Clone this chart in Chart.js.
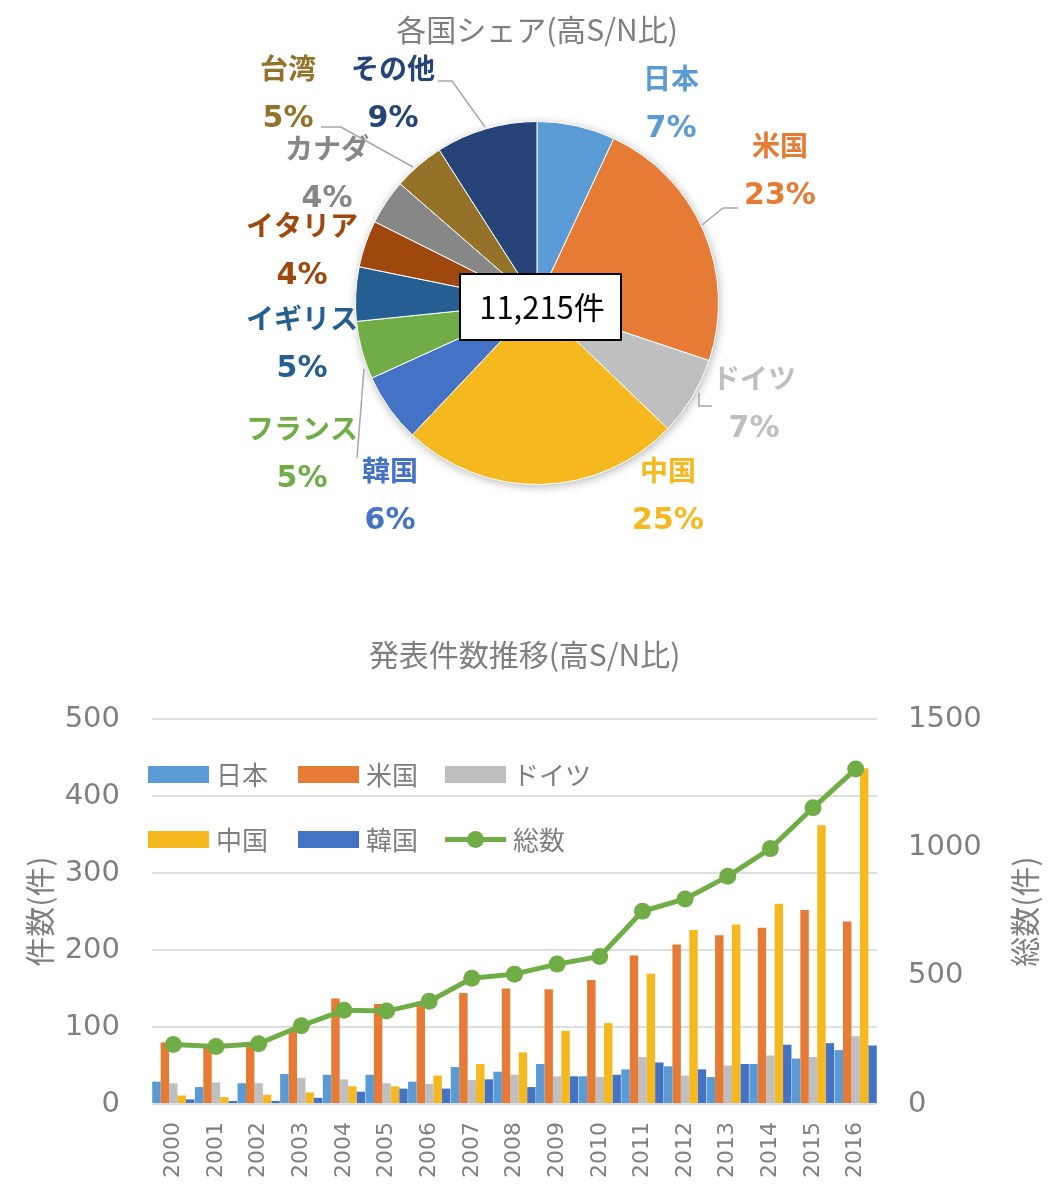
<!DOCTYPE html>
<html lang="ja">
<head>
<meta charset="utf-8">
<title>各国シェア / 発表件数推移</title>
<script src="https://cdn.jsdelivr.net/npm/chart.js@4.4.1/dist/chart.umd.min.js"></script>
<style>
  body { margin: 0; background: #fff; }
  #wrap { position: relative; width: 1049px; height: 1185px; overflow: hidden; background: #fff; }
  #pieChart { position: absolute; left: 0; top: 0; }
  #barChart { position: absolute; left: 0; top: 600px; }
  .lg { position: absolute; height: 17px; font: 26px 'Noto Sans CJK JP', 'Noto Sans', sans-serif; color: #7f7f7f; }
  .lg .sw { position: absolute; left: 0; top: 0; width: 61px; height: 17px; }
  .lg .tx { position: absolute; left: 68px; top: -9px; line-height: 34px; white-space: nowrap; }
</style>
</head>
<body>
<div id="wrap">
  <canvas id="pieChart" width="1049" height="560"></canvas>
  <canvas id="barChart" width="1049" height="585"></canvas>
</div>
<script>
// fonts / colours
const FONT = "'Noto Sans CJK JP', 'Noto Sans', sans-serif";
const NUMFONT = "'DejaVu Sans', 'Noto Sans CJK JP', sans-serif";
const GRAY = "#7f7f7f";

// ---- pie data ----
const countries = ["日本", "米国", "ドイツ", "中国", "韓国", "フランス", "イギリス", "イタリア", "カナダ", "台湾", "その他"];
const shares = [780, 2600, 790, 2790, 690, 580, 540, 470, 450, 510, 1015];
const pieColors = ["#5b9bd5", "#e67b35", "#bfbfbf", "#f5b81e", "#4472c4", "#70ad47", "#255e91", "#9e480e", "#878787", "#94722a", "#264478"];

// label spots, offset from the pie centre (name line; percent goes 50px below)
const labelSpots = [
  [134, -225], [243, -158], [217, 75], [131, 167], [-147, 167], [-235, 125],
  [-235, 15], [-235, -78], [-210, -155], [-249, -235], [-144, -235]
];
// leader lines, offset from the pie centre
const leaders = [
  [[-99, -222], [-85, -222], [-52, -176]],
  [[-216, -176], [-196, -176], [-124, -136]],
  [[165, -78], [186, -95], [201, -95]],
  [[162, 90], [162, 103], [175, 103]],
  [[-173, 66], [-180, 155]]
];

// ---- bar/line data ----
const years = ["2000", "2001", "2002", "2003", "2004", "2005", "2006", "2007", "2008", "2009", "2010", "2011", "2012", "2013", "2014", "2015", "2016"];
const japan = [29, 22, 27, 39, 38, 38, 29, 48, 42, 52, 36, 45, 49, 35, 52, 59, 70];
const usa = [80, 74, 78, 97, 137, 130, 133, 144, 150, 149, 161, 193, 207, 219, 229, 252, 237];
const germany = [27, 28, 27, 34, 32, 27, 26, 31, 38, 36, 35, 61, 37, 50, 63, 61, 88];
const china = [11, 9, 12, 15, 23, 23, 37, 52, 67, 95, 105, 169, 226, 233, 260, 362, 436];
const korea = [6, 4, 4, 8, 16, 20, 20, 32, 22, 36, 38, 54, 45, 52, 77, 79, 76];
const totals = [232, 224, 235, 305, 365, 362, 400, 490, 506, 545, 575, 751, 799, 887, 995, 1154, 1305];
const leftTicks = [0, 100, 200, 300, 400, 500];
const rightTicks = [0, 500, 1000, 1500];
const GREEN = "#70ad47";

// pie extras: shadow under the pie, labels, leader lines, centre box
const pieExtras = {
  id: "pieExtras",
  beforeDatasetsDraw(chart) {
    const arc = chart.getDatasetMeta(0).data[0];
    const ctx = chart.ctx;
    ctx.save();
    ctx.shadowColor = "rgba(0,0,0,0.3)";
    ctx.shadowBlur = 10;
    ctx.shadowOffsetX = 1;
    ctx.shadowOffsetY = 2;
    ctx.fillStyle = "#fff";
    ctx.beginPath();
    ctx.arc(arc.x, arc.y, arc.outerRadius, 0, Math.PI * 2);
    ctx.fill();
    ctx.restore();
  },
  afterDatasetsDraw(chart) {
    const arc = chart.getDatasetMeta(0).data[0];
    const cx = arc.x, cy = arc.y;
    const ctx = chart.ctx;
    const sum = shares.reduce((a, b) => a + b, 0);
    ctx.save();

    // leader lines
    ctx.strokeStyle = "#a6a6a6";
    ctx.lineWidth = 1.5;
    leaders.forEach(pts => {
      ctx.beginPath();
      pts.forEach((p, i) => {
        if (i === 0) ctx.moveTo(cx + p[0], cy + p[1]);
        else ctx.lineTo(cx + p[0], cy + p[1]);
      });
      ctx.stroke();
    });

    // names + percents
    ctx.textAlign = "center";
    ctx.textBaseline = "middle";
    for (let i = 0; i < countries.length; i++) {
      const x = cx + labelSpots[i][0];
      const y = cy + labelSpots[i][1];
      ctx.fillStyle = pieColors[i];
      ctx.font = "bold 28px " + FONT;
      ctx.fillText(countries[i], x, y);
      ctx.font = "bold 30px " + NUMFONT;
      ctx.fillText(Math.round(shares[i] / sum * 100) + "%", x, y + 51);
    }

    // centre box
    ctx.fillStyle = "#fff";
    ctx.fillRect(cx - 77, cy - 29, 161, 66);
    ctx.strokeStyle = "#000";
    ctx.lineWidth = 2;
    ctx.strokeRect(cx - 77, cy - 29, 161, 66);
    ctx.fillStyle = "#000";
    ctx.font = "31px " + FONT;
    ctx.fillText(sum.toLocaleString("en-US") + "件", cx + 5, cy + 4);
    ctx.restore();
  }
};

new Chart(document.getElementById("pieChart"), {
  type: "pie",
  data: {
    labels: countries,
    datasets: [{
      data: shares,
      backgroundColor: pieColors,
      borderColor: "#fff",
      borderWidth: 1,
      hoverOffset: 0,
      offset: 0
    }]
  },
  options: {
    responsive: false,
    animation: false,
    layout: { padding: { left: 355, right: 330, top: 0, bottom: 75 } },
    plugins: {
      legend: { display: false },
      tooltip: { enabled: false },
      title: {
        display: true,
        text: "各国シェア(高S/N比)",
        color: GRAY,
        font: { size: 30, family: FONT, weight: "normal" },
        padding: { top: 12, bottom: 73 }
      }
    }
  },
  plugins: [pieExtras]
});

// bar + line chart
const barSeries = [
  ["日本", japan, pieColors[0]],
  ["米国", usa, pieColors[1]],
  ["ドイツ", germany, pieColors[2]],
  ["中国", china, pieColors[3]],
  ["韓国", korea, pieColors[4]]
];

const datasets = [{
  type: "line",
  label: "総数",
  data: totals,
  yAxisID: "y2",
  borderColor: GREEN,
  backgroundColor: GREEN,
  borderWidth: 5,
  pointRadius: 8.5,
  pointHoverRadius: 8.5,
  pointBorderWidth: 0,
  order: 0
}];
barSeries.forEach(s => {
  datasets.push({
    type: "bar",
    label: s[0],
    data: s[1],
    backgroundColor: s[2],
    yAxisID: "y",
    categoryPercentage: 0.99,
    barPercentage: 1.0,
    order: 1
  });
});

// right axis title reads bottom-to-top like the left one, so draw it here
const rightTitle = {
  id: "rightTitle",
  afterDraw(chart) {
    const s = chart.scales.y2;
    const ctx = chart.ctx;
    ctx.save();
    ctx.translate(1025, (s.top + s.bottom) / 2);
    ctx.rotate(-Math.PI / 2);
    ctx.textAlign = "center";
    ctx.textBaseline = "middle";
    ctx.fillStyle = GRAY;
    ctx.font = "30px " + FONT;
    ctx.fillText("総数(件)", 0, 0);
    ctx.restore();
  }
};

new Chart(document.getElementById("barChart"), {
  type: "bar",
  data: { labels: years, datasets: datasets },
  options: {
    responsive: false,
    animation: false,
    layout: { padding: 0 },
    plugins: {
      legend: { display: false },
      tooltip: { enabled: false },
      title: {
        display: true,
        text: "発表件数推移(高S/N比)",
        color: GRAY,
        font: { size: 30, family: FONT, weight: "normal" },
        padding: { top: 37, bottom: 46 }
      }
    },
    scales: {
      x: {
        grid: { display: false, drawTicks: false },
        border: { display: false },
        ticks: { minRotation: 90, maxRotation: 90, color: GRAY, font: { size: 22, family: NUMFONT }, padding: 18 },
        afterFit(s) { s.height = 81; }
      },
      y: {
        position: "left",
        min: leftTicks[0],
        max: leftTicks[leftTicks.length - 1],
        afterBuildTicks(s) { s.ticks = leftTicks.map(v => ({ value: v })); },
        grid: { color: "#dedede", lineWidth: 2, drawTicks: false },
        border: { display: false },
        ticks: { color: GRAY, font: { size: 29, family: NUMFONT }, padding: 32, callback: v => String(v) },
        title: { display: true, text: "件数(件)", color: GRAY, font: { size: 30, family: FONT }, padding: { top: 22, bottom: 0 } },
        afterFit(s) { s.width = 152; }
      },
      y2: {
        position: "right",
        min: rightTicks[0],
        max: rightTicks[rightTicks.length - 1],
        afterBuildTicks(s) { s.ticks = rightTicks.map(v => ({ value: v })); },
        grid: { display: false, drawTicks: false },
        border: { display: false },
        ticks: { color: GRAY, font: { size: 29, family: NUMFONT }, padding: 31, callback: v => String(v) },
        afterFit(s) { s.width = 172; }
      }
    }
  },
  plugins: [rightTitle]
});

// legend inside the plot (html)
const legendSpots = [[148, 766], [298, 766], [445, 766], [148, 831], [298, 831]];
const wrap = document.getElementById("wrap");
barSeries.forEach((s, i) => {
  const d = document.createElement("div");
  d.className = "lg";
  d.style.left = legendSpots[i][0] + "px";
  d.style.top = legendSpots[i][1] + "px";
  d.innerHTML = '<span class="sw" style="background:' + s[2] + '"></span><span class="tx">' + s[0] + '</span>';
  wrap.appendChild(d);
});
const lineLeg = document.createElement("div");
lineLeg.className = "lg";
lineLeg.style.left = "445px";
lineLeg.style.top = "831px";
lineLeg.innerHTML =
  '<span style="position:absolute;left:0;top:6px;width:61px;height:5px;background:' + GREEN + '"></span>' +
  '<span style="position:absolute;left:22px;top:0;width:17px;height:17px;border-radius:50%;background:' + GREEN + '"></span>' +
  '<span class="tx">総数</span>';
wrap.appendChild(lineLeg);
</script>
</body>
</html>
